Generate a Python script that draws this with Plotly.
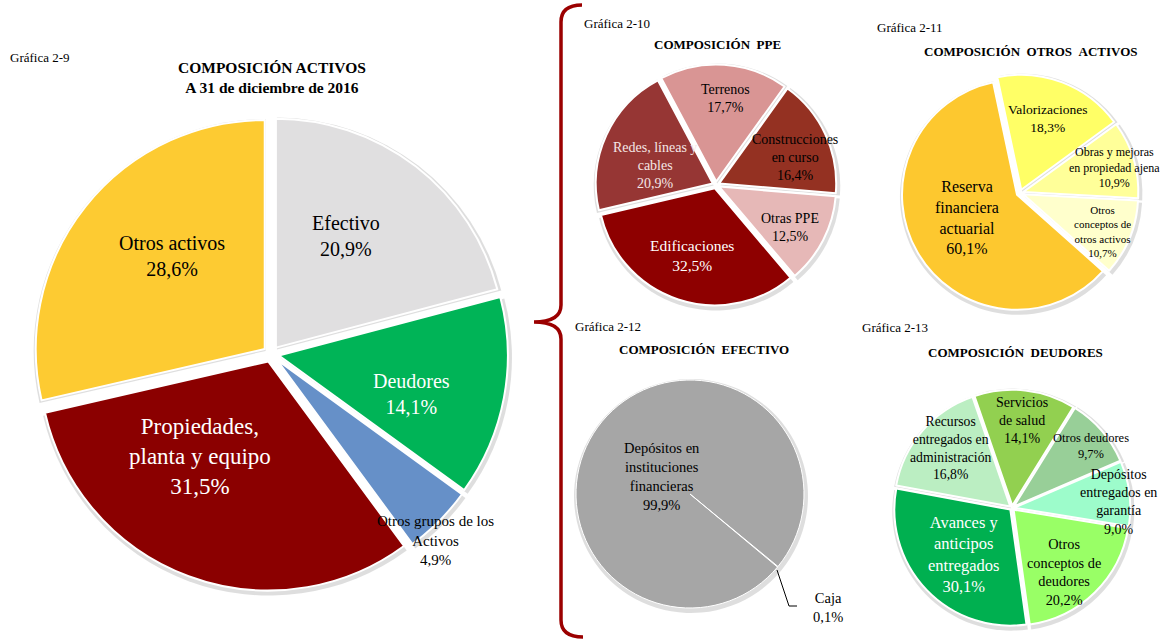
import plotly.graph_objects as go

W, H = 1167, 643
FONT = "Liberation Serif"
NB = "\u00a0"

# ---------------- DATA ----------------
main_labels = ["Efectivo", "Deudores", "Otros grupos de los Activos",
               "Propiedades, planta y equipo", "Otros activos"]
main_values = [20.9, 14.1, 4.9, 31.5, 28.6]

ppe_labels = ["Terrenos", "Construcciones en curso", "Otras PPE",
              "Edificaciones", "Redes, líneas y cables"]
ppe_values = [17.7, 16.4, 12.5, 32.5, 20.9]

otros_labels = ["Valorizaciones", "Obras y mejoras en propiedad ajena",
                "Otros conceptos de otros activos", "Reserva financiera actuarial"]
otros_values = [18.3, 10.9, 10.7, 60.1]

efec_labels = ["Caja", "Depósitos en instituciones financieras"]
efec_values = [0.1, 99.9]

deud_labels = ["Servicios de salud", "Otros deudores", "Depósitos entregados en garantía",
               "Otros conceptos de deudores", "Avances y anticipos entregados",
               "Recursos entregados en administración"]
deud_values = [14.1, 9.7, 9.0, 20.2, 30.1, 16.8]

# ---------------- DISPLAY (wrapping) ----------------
wrap = {
    "Otros grupos de los Activos": "Otros grupos de los<br>Activos",
    "Propiedades, planta y equipo": "Propiedades,<br>planta y equipo",
    "Construcciones en curso": "Construcciones<br>en curso",
    "Redes, líneas y cables": "Redes, líneas y<br>cables",
    "Obras y mejoras en propiedad ajena": "Obras y mejoras<br>en propiedad ajena",
    "Otros conceptos de otros activos": "Otros<br>conceptos de<br>otros activos",
    "Reserva financiera actuarial": "Reserva<br>financiera<br>actuarial",
    "Depósitos en instituciones financieras": "Depósitos en<br>instituciones<br>financieras",
    "Servicios de salud": "Servicios<br>de salud",
    "Depósitos entregados en garantía": "Depósitos<br>entregados en<br>garantía",
    "Otros conceptos de deudores": "Otros<br>conceptos de<br>deudores",
    "Avances y anticipos entregados": "Avances y<br>anticipos<br>entregados",
    "Recursos entregados en administración": "Recursos<br>entregados en<br>administración",
}


def pct(v):
    return f"{v:.1f}".replace(".", ",") + "%"


fig = go.Figure()
annotations = []
shapes = []


def px2paper(x, y):
    return x / W, 1 - y / H


def add_pie(labels, values, colors, cx, cy, r, pulls, rotation, line_w=2, shadow=True):
    mp = max(pulls)
    if shadow:
        rs = r + 3
        hs = rs * (1 + mp)
        fig.add_trace(go.Pie(
            labels=labels, values=values, sort=False, direction="clockwise",
            rotation=rotation, pull=pulls, textinfo="none", hoverinfo="skip",
            showlegend=False,
            marker=dict(colors=["rgba(0,0,0,0.13)"] * len(values),
                        line=dict(width=0)),
            domain=dict(x=[(cx + 1 - hs) / W, (cx + 1 + hs) / W],
                        y=[1 - (cy + 2 + hs) / H, 1 - (cy + 2 - hs) / H]),
        ))
    half = r * (1 + mp)
    fig.add_trace(go.Pie(
        labels=labels, values=values, sort=False, direction="clockwise",
        rotation=rotation, pull=pulls, textinfo="none", showlegend=False,
        marker=dict(colors=colors, line=dict(color="white", width=line_w)),
        domain=dict(x=[(cx - half) / W, (cx + half) / W],
                    y=[1 - (cy + half) / H, 1 - (cy - half) / H]),
    ))


def add_labels(labels, values, positions, sizes, colors):
    for lab, v, (x, y), s, c in zip(labels, values, positions, sizes, colors):
        xp, yp = px2paper(x, y)
        annotations.append(dict(
            x=xp, y=yp, xref="paper", yref="paper", showarrow=False,
            text=wrap.get(lab, lab) + "<br>" + pct(v), align="center",
            xanchor="center", yanchor="middle",
            font=dict(family=FONT, size=s, color=c)))


def add_text(x, y, text, size, xanchor="left", bold=False):
    xp, yp = px2paper(x, y)
    annotations.append(dict(
        x=xp, y=yp, xref="paper", yref="paper", showarrow=False,
        text=f"<b>{text}</b>" if bold else text, align="center",
        xanchor=xanchor, yanchor="middle",
        font=dict(family=FONT, size=size, color="black")))


# ---------------- MAIN PIE ----------------
add_pie(main_labels, main_values,
        ["#E0DFE0", "#00B457", "#6690C8", "#8B0000", "#FDCB32"],
        271, 354, 229, [0.035] * 5, 0, line_w=2)
add_labels(main_labels, main_values,
           [(346, 236), (412, 394), (435, 540), (200, 456), (172, 256)],
           [20, 20, 15, 23, 20],
           ["black", "white", "black", "white", "black"])
add_text(8, 58, "Gráfica 2-9", 13)
add_text(272, 78, "COMPOSICIÓN ACTIVOS<br>A 31 de diciembre de 2016", 15.5,
         xanchor="center", bold=True)

# ---------------- PPE ----------------
add_pie(ppe_labels, ppe_values,
        ["#D99594", "#943122", "#E6B8B7", "#8E0000", "#963634"],
        716, 185, 117, [0.03] * 5, -28, line_w=2)
add_labels(ppe_labels, ppe_values,
           [(725, 98), (795, 158), (790, 228), (692, 255), (655, 165)],
           [14, 14, 14, 15.5, 14],
           ["black", "black", "black", "white", "#F5E6E6"])
add_text(582, 23, "Gráfica 2-10", 13)
add_text(717, 44, f"COMPOSICIÓN{NB}{NB}PPE", 13, xanchor="center", bold=True)

# ---------------- OTROS ACTIVOS ----------------
add_pie(otros_labels, otros_values,
        ["#FFFF66", "#FFFF99", "#FFFFCC", "#FDC82F"],
        1020, 193, 115, [0.03] * 4, -12, line_w=2)
add_labels(otros_labels, otros_values,
           [(1047, 118), (1114, 167), (1102, 231), (967, 217)],
           [13.5, 12, 11, 16],
           ["black"] * 4)
add_text(875, 28, "Gráfica 2-11", 13)
add_text(1031, 52, f"COMPOSICIÓN{NB}{NB}OTROS{NB}{NB}ACTIVOS", 13, xanchor="center", bold=True)

# ---------------- EFECTIVO ----------------
add_pie(efec_labels, efec_values, ["#A6A6A6", "#A6A6A6"],
        690, 494, 114, [0, 0], 129.5, line_w=1)
add_labels(efec_labels, efec_values,
           [(828, 607), (662, 476)], [14.5, 14.5], ["black", "black"])
add_text(573, 326, "Gráfica 2-12", 13)
add_text(704, 349, f"COMPOSICIÓN{NB}{NB}EFECTIVO", 13, xanchor="center", bold=True)
shapes.append(dict(type="path", xref="paper", yref="paper",
                   path="M {} {} L {} {} L {} {}".format(
                       *px2paper(777, 570), *px2paper(789, 606), *px2paper(797, 606)),
                   line=dict(color="black", width=1)))

# ---------------- DEUDORES ----------------
add_pie(deud_labels, deud_values,
        ["#92D050", "#98CF98", "#9DFCCB", "#99FF66", "#00B050", "#BBEEC2"],
        1012, 508, 116, [0.02] * 6, -19, line_w=2)
add_labels(deud_labels, deud_values,
           [(1022, 420), (1091, 446), (1118, 502), (1064, 572), (963, 554), (950, 448)],
           [14, 12.5, 14, 14.3, 16.5, 13.7],
           ["black", "black", "black", "black", "white", "black"])
add_text(860, 327, "Gráfica 2-13", 13)
add_text(1015, 352, f"COMPOSICIÓN{NB}{NB}DEUDORES", 13, xanchor="center", bold=True)

# ---------------- BRACE ----------------
pts = [(582, 5), (561, 5), (561, 22), (561, 305), (561, 322), (534, 322),
       (561, 322), (561, 339), (561, 620), (561, 637), (583, 637)]
pp = [px2paper(x, y) for x, y in pts]
brace = ("M {} {} Q {} {} {} {} L {} {} Q {} {} {} {} Q {} {} {} {} L {} {} Q {} {} {} {}"
         .format(*pp[0], *pp[1], *pp[2], *pp[3], *pp[4], *pp[5],
                 *pp[6], *pp[7], *pp[8], *pp[9], *pp[10]))
shapes.append(dict(type="path", xref="paper", yref="paper", path=brace,
                   line=dict(color="#9B0000", width=3.5)))

fig.update_layout(
    width=W, height=H,
    margin=dict(l=0, r=0, t=0, b=0),
    paper_bgcolor="white", plot_bgcolor="white",
    font=dict(family=FONT),
    annotations=annotations, shapes=shapes,
    showlegend=False,
)

fig.write_html("out.html",
               config={"displayModeBar": False},
               post_script="document.body.style.margin='0';document.body.style.padding='0';")
